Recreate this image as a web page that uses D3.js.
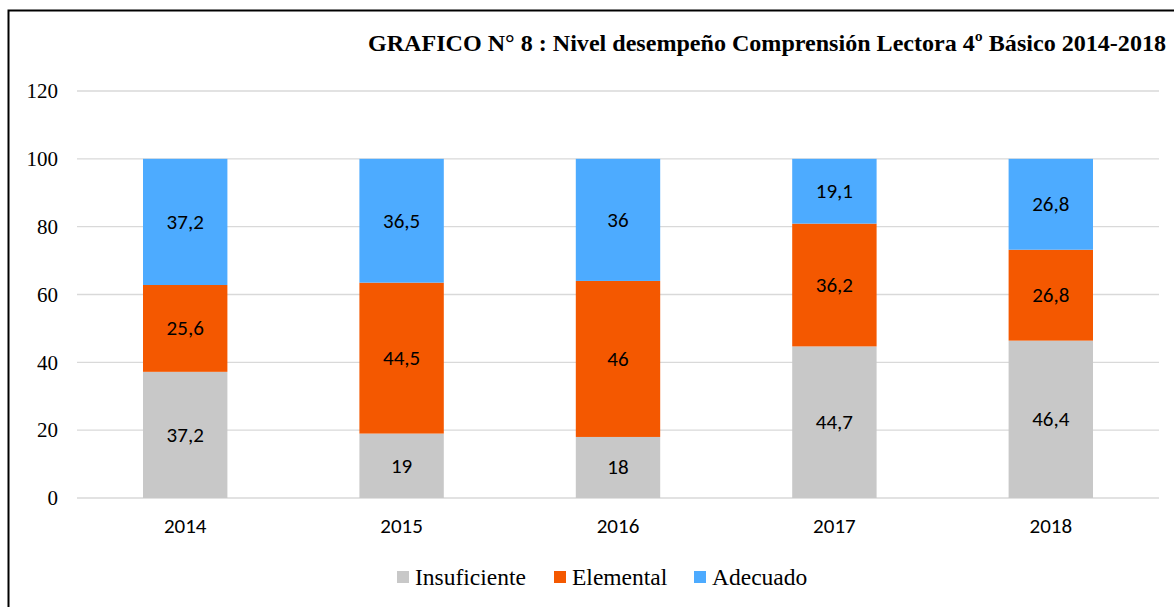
<!DOCTYPE html>
<html><head><meta charset="utf-8">
<script src="https://cdn.jsdelivr.net/npm/d3@7"></script>
<style>html,body{margin:0;padding:0;background:#fff;overflow:hidden}</style>
</head><body>
<svg id="c" width="1174" height="607"></svg>
<script>
const years = ["2014","2015","2016","2017","2018"];
const seriesNames = ["Insuficiente","Elemental","Adecuado"];
const insuficiente = [37.2, 19, 18, 44.7, 46.4];
const elemental = [25.6, 44.5, 46, 36.2, 26.8];
const adecuado = [37.2, 36.5, 36, 19.1, 26.8];
const labelsInsuficiente = ["37,2","19","18","44,7","46,4"];
const labelsElemental = ["25,6","44,5","46","36,2","26,8"];
const labelsAdecuado = ["37,2","36,5","36","19,1","26,8"];
const yTicks = [0,20,40,60,80,100,120];
const title = "GRAFICO N° 8 : Nivel desempeño Comprensión Lectora 4º Básico 2014-2018";

const colors = ["#c8c8c8","#f45800","#4dabff"];
const seriesVals = [insuficiente, elemental, adecuado];
const seriesLabels = [labelsInsuficiente, labelsElemental, labelsAdecuado];
const sansFont = "Carlito, 'Open Sans', 'Liberation Sans', sans-serif";
const serifFont = "'Liberation Serif', 'Times New Roman', serif";

const svg = d3.select("#c");
svg.append("rect").attr("x",8.5).attr("y",10.5).attr("width",1200).attr("height",700)
  .attr("fill","none").attr("stroke","#000").attr("stroke-width",2);

const x = d3.scaleBand().domain(years).range([77,1159]).paddingInner(0.61).paddingOuter(0.305);
const y = d3.scaleLinear().domain([0,120]).range([498,91]);

// grid
svg.append("g").selectAll("line").data(yTicks).join("line")
  .attr("x1",77).attr("x2",1159).attr("y1",d=>y(d)).attr("y2",d=>y(d))
  .attr("stroke","#d9d9d9").attr("stroke-width",1.3);

// y axis labels
const yAxis = svg.append("g").attr("transform","translate(58,0)")
  .call(d3.axisLeft(y).tickValues(yTicks).tickSize(0).tickPadding(0));
yAxis.select(".domain").remove();
yAxis.selectAll("text").attr("font-family",serifFont).attr("font-size",21)
  .attr("fill","#000").attr("dy","0.32em");

// x axis labels
const xAxis = svg.append("g").attr("transform","translate(0,533)")
  .call(d3.axisBottom(x).tickSize(0).tickPadding(0));
xAxis.select(".domain").remove();
xAxis.selectAll("text").attr("font-family",sansFont).attr("font-size",21)
  .attr("fill","#000").attr("dy","0");

// stacked bars
const stackData = years.map((yr,i)=>{
  const o = {year: yr};
  seriesNames.forEach((s,j)=>o[s]=seriesVals[j][i]);
  return o;
});
const stack = d3.stack().keys(seriesNames)(stackData);
stack.forEach((layer,j)=>{
  const g = svg.append("g");
  g.selectAll("rect").data(layer).join("rect")
    .attr("x",d=>x(d.data.year)).attr("width",x.bandwidth())
    .attr("y",d=>y(d[1])).attr("height",d=>y(d[0])-y(d[1]))
    .attr("fill",colors[j]);
  g.selectAll("text").data(layer).join("text")
    .attr("x",d=>x(d.data.year)+x.bandwidth()/2)
    .attr("y",d=>y((d[0]+d[1])/2))
    .attr("dy","0.33em").attr("text-anchor","middle")
    .attr("font-family",sansFont).attr("font-size",21)
    .attr("fill","#000")
    .text((d,i)=>seriesLabels[j][i]);
});

// title
svg.append("text").attr("x",368).attr("y",51)
  .attr("font-family",serifFont).attr("font-weight","bold").attr("font-size",24)
  .attr("textLength",798).attr("lengthAdjust","spacingAndGlyphs")
  .attr("fill","#000").text(title);

// legend
const legendX = [397,554,694];
const lg = svg.append("g");
seriesNames.forEach((s,j)=>{
  lg.append("rect").attr("x",legendX[j]).attr("y",571).attr("width",12).attr("height",12).attr("fill",colors[j]);
  lg.append("text").attr("x",legendX[j]+18).attr("y",585)
    .attr("font-family",serifFont).attr("font-size",23.5).attr("fill","#000").text(s);
});
</script>
</body></html>
